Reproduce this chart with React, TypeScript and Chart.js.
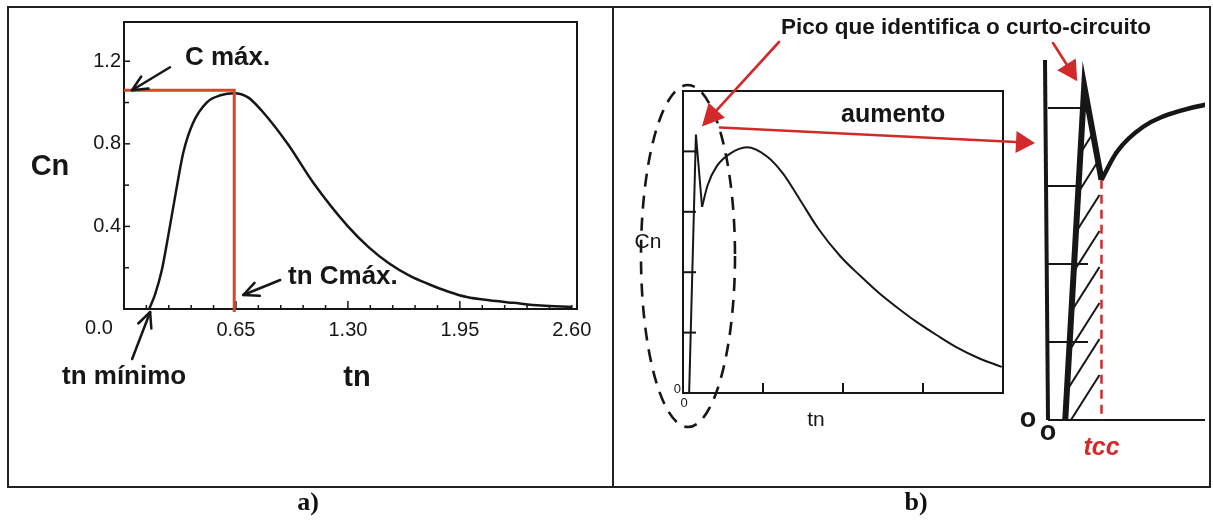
import { useEffect, useRef } from "react";
import { Chart, registerables } from "chart.js";

Chart.register(...registerables);

const W = 1213;
const H = 520;
const SANS = "'Liberation Sans', Arial, sans-serif";
const SERIF = "'Liberation Serif', 'Times New Roman', serif";
const INK = "#161616";
const RED = "#d22a2a";
const ORANGE_RED = "#d54a26";

// a) normalized curve Cn(tn)
const tnA = [0.146, 0.18, 0.22, 0.26, 0.3, 0.345, 0.4, 0.48, 0.56, 0.64, 0.72, 0.8, 0.95, 1.1, 1.3, 1.42, 1.54, 1.66, 1.77, 1.88, 1.99, 2.12, 2.26, 2.42, 2.6];
const cnA = [0.0, 0.07, 0.19, 0.37, 0.56, 0.76, 0.9, 1.0, 1.035, 1.045, 1.025, 0.96, 0.8, 0.61, 0.4, 0.3, 0.22, 0.16, 0.12, 0.085, 0.058, 0.042, 0.03, 0.017, 0.01];
const xTicksA = [0.65, 1.3, 1.95, 2.6];
const xTickLabelsA = ["0.65", "1.30", "1.95", "2.60"];
const yTicksA = [0.4, 0.8, 1.2];
const yTickLabelsA = ["0.4", "0.8", "1.2"];
const yMinorA = [0.2, 0.6, 1.0];

// b) curve with the short-circuit peak at the start
const spikeTn = [0.05, 0.105, 0.155];
const spikeCn = [0, 1.07, 0.77];
const tnB = [0.155, 0.2, 0.276, 0.38, 0.52, 0.68, 0.81, 0.95, 1.1, 1.28, 1.44, 1.59, 1.75, 1.91, 2.06, 2.22, 2.4, 2.59];
const cnB = [0.77, 0.86, 0.94, 0.99, 1.017, 0.98, 0.91, 0.8, 0.68, 0.565, 0.485, 0.415, 0.35, 0.29, 0.24, 0.19, 0.145, 0.108];
const xTicksB = [0.65, 1.3, 1.95];
const yTicksB = [0.25, 0.5, 0.75, 1.0];

type Area = { left: number; top: number; right: number; bottom: number };

const AREA_A: Area = { left: 124, top: 22, right: 577, bottom: 309 };
const AREA_B: Area = { left: 683, top: 91, right: 1003, bottom: 393 };
const AREA_C: Area = { left: 1048, top: 60, right: 1205, bottom: 420 };

function pts(xs: number[], ys: number[]) {
  return xs.map((x, i) => ({ x, y: ys[i] }));
}

function text(
  ctx: CanvasRenderingContext2D,
  s: string,
  x: number,
  y: number,
  font: string,
  color = INK,
  align: CanvasTextAlign = "center"
) {
  ctx.save();
  ctx.font = font;
  ctx.fillStyle = color;
  ctx.textAlign = align;
  ctx.textBaseline = "middle";
  ctx.fillText(s, x, y);
  ctx.restore();
}

function line(ctx: CanvasRenderingContext2D, x1: number, y1: number, x2: number, y2: number, w: number, color = INK) {
  ctx.save();
  ctx.strokeStyle = color;
  ctx.lineWidth = w;
  ctx.beginPath();
  ctx.moveTo(x1, y1);
  ctx.lineTo(x2, y2);
  ctx.stroke();
  ctx.restore();
}

function arrow(
  ctx: CanvasRenderingContext2D,
  x1: number,
  y1: number,
  x2: number,
  y2: number,
  o: { color: string; width: number; head: number; spread: number; filled: boolean }
) {
  const a = Math.atan2(y2 - y1, x2 - x1);
  const bx = x2 - o.head * Math.cos(a);
  const by = y2 - o.head * Math.sin(a);
  const lx = bx + o.spread * Math.sin(a);
  const ly = by - o.spread * Math.cos(a);
  const rx = bx - o.spread * Math.sin(a);
  const ry = by + o.spread * Math.cos(a);
  ctx.save();
  ctx.strokeStyle = o.color;
  ctx.fillStyle = o.color;
  ctx.lineWidth = o.width;
  ctx.lineCap = "round";
  ctx.lineJoin = "round";
  ctx.beginPath();
  ctx.moveTo(x1, y1);
  if (o.filled) ctx.lineTo(bx, by);
  else ctx.lineTo(x2, y2);
  ctx.stroke();
  ctx.beginPath();
  if (o.filled) {
    ctx.moveTo(x2, y2);
    ctx.lineTo(lx, ly);
    ctx.lineTo(rx, ry);
    ctx.closePath();
    ctx.fill();
  } else {
    ctx.moveTo(lx, ly);
    ctx.lineTo(x2, y2);
    ctx.lineTo(rx, ry);
    ctx.stroke();
  }
  ctx.restore();
}

function baseConfig(area: Area, xMax: number, yMax: number, datasets: any[], plugin: any): any {
  return {
    type: "line",
    data: { datasets },
    options: {
      responsive: false,
      animation: false,
      events: [],
      layout: {
        padding: { left: area.left, top: area.top, right: W - area.right, bottom: H - area.bottom },
      },
      plugins: { legend: { display: false }, tooltip: { enabled: false }, title: { display: false } },
      scales: {
        x: { type: "linear", min: 0, max: xMax, display: false },
        y: { type: "linear", min: 0, max: yMax, display: false },
      },
      elements: { point: { radius: 0 } },
    },
    plugins: [plugin],
  };
}

function configA(): any {
  const plugin = {
    id: "panelA",
    beforeDraw(chart: any) {
      const ctx: CanvasRenderingContext2D = chart.ctx;
      ctx.save();
      ctx.fillStyle = "#fff";
      ctx.fillRect(0, 0, W, H);
      ctx.restore();
      // figure frame and panel divider
      ctx.save();
      ctx.strokeStyle = "#222";
      ctx.lineWidth = 2;
      ctx.strokeRect(8, 7, 1202, 480);
      ctx.restore();
      line(ctx, 613, 7, 613, 487, 2, "#222");
      text(ctx, "a)", 308, 503, `bold 26px ${SERIF}`, "#111");
      text(ctx, "b)", 916, 503, `bold 26px ${SERIF}`, "#111");
    },
    afterDatasetsDraw(chart: any) {
      const ctx: CanvasRenderingContext2D = chart.ctx;
      const X = (v: number) => chart.scales.x.getPixelForValue(v);
      const Y = (v: number) => chart.scales.y.getPixelForValue(v);
      const ca = chart.chartArea;

      // plot box
      ctx.save();
      ctx.strokeStyle = INK;
      ctx.lineWidth = 2;
      ctx.strokeRect(ca.left, ca.top, ca.right - ca.left, ca.bottom - ca.top);
      ctx.restore();

      // x ticks (inside), minor every 0.13
      for (let k = 1; k <= 20; k++) {
        const v = k * 0.13;
        const major = k % 5 === 0 && k < 20;
        line(ctx, X(v), Y(0), X(v), Y(0) - (major ? 8 : 4), 1.5);
      }
      yTicksA.forEach((v) => line(ctx, X(0), Y(v), X(0) + 6, Y(v), 1.5));
      yMinorA.forEach((v) => line(ctx, X(0), Y(v), X(0) + 5, Y(v), 1.5));

      // tick labels
      const tickFont = `20px ${SANS}`;
      xTicksA.forEach((v, i) => text(ctx, xTickLabelsA[i], X(v), Y(0) + 21, tickFont));
      yTicksA.forEach((v, i) => text(ctx, yTickLabelsA[i], X(0) - 3, Y(v), tickFont, INK, "right"));
      text(ctx, "0.0", X(0) - 25, Y(0) + 19, tickFont);

      // maximum marker lines
      let iMax = 0;
      cnA.forEach((c, i) => {
        if (c > cnA[iMax]) iMax = i;
      });
      const tMax = tnA[iMax];
      const cMax = cnA[iMax];
      ctx.save();
      ctx.strokeStyle = ORANGE_RED;
      ctx.lineWidth = 3;
      ctx.beginPath();
      ctx.moveTo(X(0), Y(cMax) - 3);
      ctx.lineTo(X(tMax), Y(cMax) - 3);
      ctx.lineTo(X(tMax), Y(0) + 3);
      ctx.stroke();
      ctx.restore();

      // annotations
      const bigBold = `bold 26px ${SANS}`;
      const blk = { color: INK, width: 2.5, head: 15, spread: 7, filled: false };
      arrow(ctx, X(0) + 46, Y(cMax) - 26, X(0) + 8, Y(cMax) - 3, blk);
      text(ctx, "C máx.", 185, 58, bigBold, INK, "left");
      arrow(ctx, X(tMax) + 46, Y(0) - 29, X(tMax) + 9, Y(0) - 14, blk);
      text(ctx, "tn Cmáx.", 288, 277, bigBold, INK, "left");
      arrow(ctx, X(tnA[0]) - 17, Y(0) + 50, X(tnA[0]) + 1, Y(0) + 3, blk);
      text(ctx, "tn mínimo", 62, 377, bigBold, INK, "left");
      text(ctx, "Cn", 50, 167, `bold 29px ${SANS}`);
      text(ctx, "tn", 357, 378, `bold 29px ${SANS}`);
    },
  };
  return baseConfig(
    AREA_A,
    2.63,
    1.39,
    [
      {
        data: pts(tnA, cnA),
        borderColor: INK,
        borderWidth: 2.5,
        pointRadius: 0,
        cubicInterpolationMode: "monotone",
        fill: false,
      },
    ],
    plugin
  );
}

function configB(): any {
  const plugin = {
    id: "panelB",
    afterDatasetsDraw(chart: any) {
      const ctx: CanvasRenderingContext2D = chart.ctx;
      const X = (v: number) => chart.scales.x.getPixelForValue(v);
      const Y = (v: number) => chart.scales.y.getPixelForValue(v);
      const ca = chart.chartArea;
      ctx.save();
      ctx.strokeStyle = INK;
      ctx.lineWidth = 2;
      ctx.strokeRect(ca.left, ca.top, ca.right - ca.left, ca.bottom - ca.top);
      ctx.restore();
      xTicksB.forEach((v) => line(ctx, X(v), Y(0), X(v), Y(0) - 10, 2));
      yTicksB.forEach((v) => line(ctx, X(0), Y(v), X(0) + 13, Y(v), 2));
      text(ctx, "0", X(0) - 2, Y(0) - 4, `13px ${SANS}`, INK, "right");
      text(ctx, "0", X(0) + 1, Y(0) + 10, `13px ${SANS}`);
      text(ctx, "Cn", 648, 242, `21px ${SANS}`);
      text(ctx, "tn", 816, 420, `21px ${SANS}`);

      // dashed ellipse around the initial peak
      ctx.save();
      ctx.strokeStyle = INK;
      ctx.lineWidth = 2.6;
      ctx.setLineDash([13, 9]);
      ctx.beginPath();
      ctx.ellipse(X(0) + 5, 256, 47, 171, 0, 0, Math.PI * 2);
      ctx.stroke();
      ctx.restore();
    },
  };
  return baseConfig(
    AREA_B,
    2.6,
    1.25,
    [
      { data: pts(spikeTn, spikeCn), borderColor: INK, borderWidth: 2, pointRadius: 0, tension: 0, fill: false },
      {
        data: pts(tnB, cnB),
        borderColor: INK,
        borderWidth: 2,
        pointRadius: 0,
        cubicInterpolationMode: "monotone",
        fill: false,
      },
    ],
    plugin
  );
}

function configC(main: any): any {
  const plugin = {
    id: "panelC",
    beforeDatasetsDraw(chart: any) {
      const ctx: CanvasRenderingContext2D = chart.ctx;
      const X = (v: number) => chart.scales.x.getPixelForValue(v);
      const Y = (v: number) => chart.scales.y.getPixelForValue(v);
      const ca = chart.chartArea;

      // axes of the magnified view
      line(ctx, ca.left - 3, ca.top, ca.left, ca.bottom, 4);
      line(ctx, ca.left, ca.bottom, ca.right, ca.bottom, 2);
      const tickLen = [40, 40, 35, 35];
      yTicksB.forEach((v, i) => line(ctx, ca.left, Y(v), ca.left + tickLen[i], Y(v), 2));

      // hatched area under the peak, up to tcc
      const tcc = X(spikeTn[2]);
      ctx.save();
      ctx.beginPath();
      ctx.moveTo(X(spikeTn[0]), Y(0));
      spikeTn.forEach((t, i) => ctx.lineTo(X(t), Y(spikeCn[i])));
      ctx.lineTo(tcc, Y(0));
      ctx.closePath();
      ctx.clip();
      ctx.strokeStyle = INK;
      ctx.lineWidth = 2;
      for (let k = 0; k < 8; k++) {
        const yy = Y(0) - 45 - k * 36;
        ctx.beginPath();
        ctx.moveTo(tcc - 2, yy);
        ctx.lineTo(tcc - 2 - 52, yy + 82);
        ctx.stroke();
      }
      ctx.restore();

      // tcc marker
      ctx.save();
      ctx.strokeStyle = RED;
      ctx.lineWidth = 2.5;
      ctx.setLineDash([9, 6]);
      ctx.beginPath();
      ctx.moveTo(tcc, Y(spikeCn[2]));
      ctx.lineTo(tcc, Y(0));
      ctx.stroke();
      ctx.restore();
    },
    afterDatasetsDraw(chart: any) {
      const ctx: CanvasRenderingContext2D = chart.ctx;
      const X = (v: number) => chart.scales.x.getPixelForValue(v);
      const Y = (v: number) => chart.scales.y.getPixelForValue(v);
      const ca = chart.chartArea;
      const mX = (v: number) => main.scales.x.getPixelForValue(v);
      const mY = (v: number) => main.scales.y.getPixelForValue(v);

      text(ctx, "o", ca.left - 20, ca.bottom, `bold 27px ${SANS}`);
      text(ctx, "o", ca.left + 0, ca.bottom + 13, `bold 27px ${SANS}`);
      text(ctx, "tcc", X(spikeTn[2]), 448, `italic bold 25px ${SANS}`, RED);

      const red = { color: RED, width: 2.6, head: 22, spread: 11, filled: true };
      const peakMain = { x: mX(spikeTn[1]), y: mY(spikeCn[1]) };
      const peakZoom = { x: X(spikeTn[1]), y: Y(spikeCn[1]) };
      text(ctx, "Pico que identifica o curto-circuito", 781, 28, `bold 22.5px ${SANS}`, INK, "left");
      arrow(ctx, 779, 42, peakMain.x + 6, peakMain.y - 8, red);
      arrow(ctx, 1053, 43, peakZoom.x - 7, peakZoom.y - 5, { ...red, head: 20 });
      text(ctx, "aumento", 841, 115, `bold 25px ${SANS}`, INK, "left");
      arrow(ctx, peakMain.x + 24, peakMain.y - 7, ca.left - 13, ca.top + 83, { ...red, head: 19 });
    },
  };
  return baseConfig(
    AREA_C,
    0.455,
    1.154,
    [
      { data: pts(spikeTn, spikeCn), borderColor: INK, borderWidth: 6, pointRadius: 0, tension: 0, fill: false },
      {
        data: pts(tnB, cnB),
        borderColor: INK,
        borderWidth: 4.5,
        pointRadius: 0,
        cubicInterpolationMode: "monotone",
        fill: false,
      },
    ],
    plugin
  );
}

export default function App() {
  const refA = useRef<HTMLCanvasElement>(null);
  const refB = useRef<HTMLCanvasElement>(null);
  const refC = useRef<HTMLCanvasElement>(null);

  useEffect(() => {
    const a = new Chart(refA.current!, configA());
    const b = new Chart(refB.current!, configB());
    const c = new Chart(refC.current!, configC(b));
    return () => {
      c.destroy();
      b.destroy();
      a.destroy();
    };
  }, []);

  const layer = { position: "absolute", left: 0, top: 0, width: W, height: H } as const;
  return (
    <div style={{ position: "absolute", left: 0, top: 0, width: W, height: H, background: "#fff" }}>
      <canvas ref={refA} width={W} height={H} style={layer} />
      <canvas ref={refB} width={W} height={H} style={layer} />
      <canvas ref={refC} width={W} height={H} style={layer} />
    </div>
  );
}
